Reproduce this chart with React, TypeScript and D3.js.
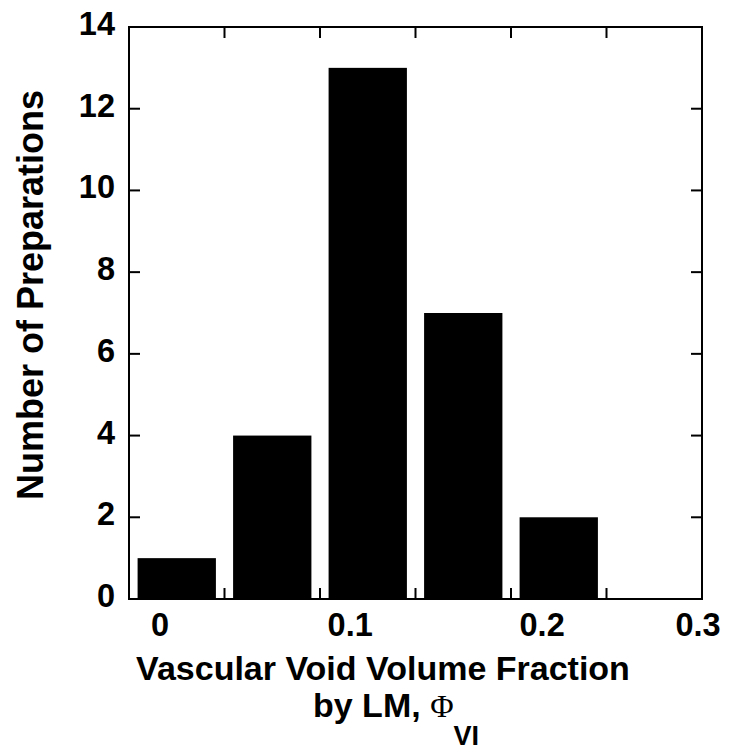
import * as d3 from 'd3';

// histogram of vascular void volume fraction
const bins = ['b1', 'b2', 'b3', 'b4', 'b5', 'b6'];
const counts = [1, 4, 13, 7, 2, 0];

const yTicks = [0, 2, 4, 6, 8, 10, 12, 14];
const xTickLabels = [0, 0.1, 0.2, 0.3];
// where the printed labels sit, as fraction of the plot width
const xLabelFrac = [0.054, 0.386, 0.721, 0.993];

const W = 729;
const H = 753;
const margin = { top: 27, right: 27, bottom: 154, left: 129 };
const FONT = '"Liberation Sans", Arial, Helvetica, sans-serif';

export default function App() {
  const innerW = W - margin.left - margin.right;
  const innerH = H - margin.top - margin.bottom;
  const x0 = margin.left;
  const x1 = margin.left + innerW;
  const y0 = margin.top;
  const y1 = margin.top + innerH;

  const x = d3.scaleBand<string>().domain(bins).range([x0, x1]).paddingInner(0.18).paddingOuter(0.09);
  const y = d3.scaleLinear().domain([0, 14]).range([y1, y0]);
  const xLab = d3.scaleLinear().domain(xTickLabels).range(xLabelFrac.map(f => x0 + f * innerW));

  const step = x.step();
  const edges = bins.slice(1).map((_, i) => x0 + step * (i + 1));
  const tickLen = 11;

  return (
    <svg width={W} height={H} style={{ position: 'absolute', left: 0, top: 0, background: '#fff' }}>
      {bins.map((b, i) => (
        <rect key={b} x={x(b)} y={y(counts[i])} width={x.bandwidth()} height={y(0) - y(counts[i])} fill="#000" />
      ))}
      <rect x={x0} y={y0} width={innerW} height={innerH} fill="none" stroke="#000" strokeWidth={2} />
      {edges.map((e, i) => (
        <g key={i} stroke="#000" strokeWidth={2}>
          <line x1={e} x2={e} y1={y1} y2={y1 - tickLen} />
          <line x1={e} x2={e} y1={y0} y2={y0 + tickLen} />
        </g>
      ))}
      {yTicks.map(t => (
        <g key={t}>
          <line x1={x0} x2={x0 + tickLen} y1={y(t)} y2={y(t)} stroke="#000" strokeWidth={2} />
          <line x1={x1} x2={x1 - tickLen} y1={y(t)} y2={y(t)} stroke="#000" strokeWidth={2} />
          <text x={x0 - 14} y={y(t) + 8} textAnchor="end" fontFamily={FONT} fontWeight="bold" fontSize={32.5}>
            {t}
          </text>
        </g>
      ))}
      {xTickLabels.map(t => (
        <text key={t} x={xLab(t)} y={636} textAnchor="middle" fontFamily={FONT} fontWeight="bold" fontSize={32.5}>
          {t}
        </text>
      ))}
      <text x={383} y={680} textAnchor="middle" fontFamily={FONT} fontWeight="bold" fontSize={34}>
        Vascular Void Volume Fraction
      </text>
      <text x={313} y={717} fontFamily={FONT} fontWeight="bold" fontSize={34}>
        by LM,{' '}
        <tspan fontFamily='"Liberation Serif", "DejaVu Serif", serif' fontWeight="normal" fontSize={32}>
          Φ
        </tspan>
        <tspan dy={28} fontSize={27}>VI</tspan>
      </text>
      <text
        transform="translate(43, 295) rotate(-90)"
        textAnchor="middle"
        fontFamily={FONT}
        fontWeight="bold"
        fontSize={36}
      >
        Number of Preparations
      </text>
    </svg>
  );
}
